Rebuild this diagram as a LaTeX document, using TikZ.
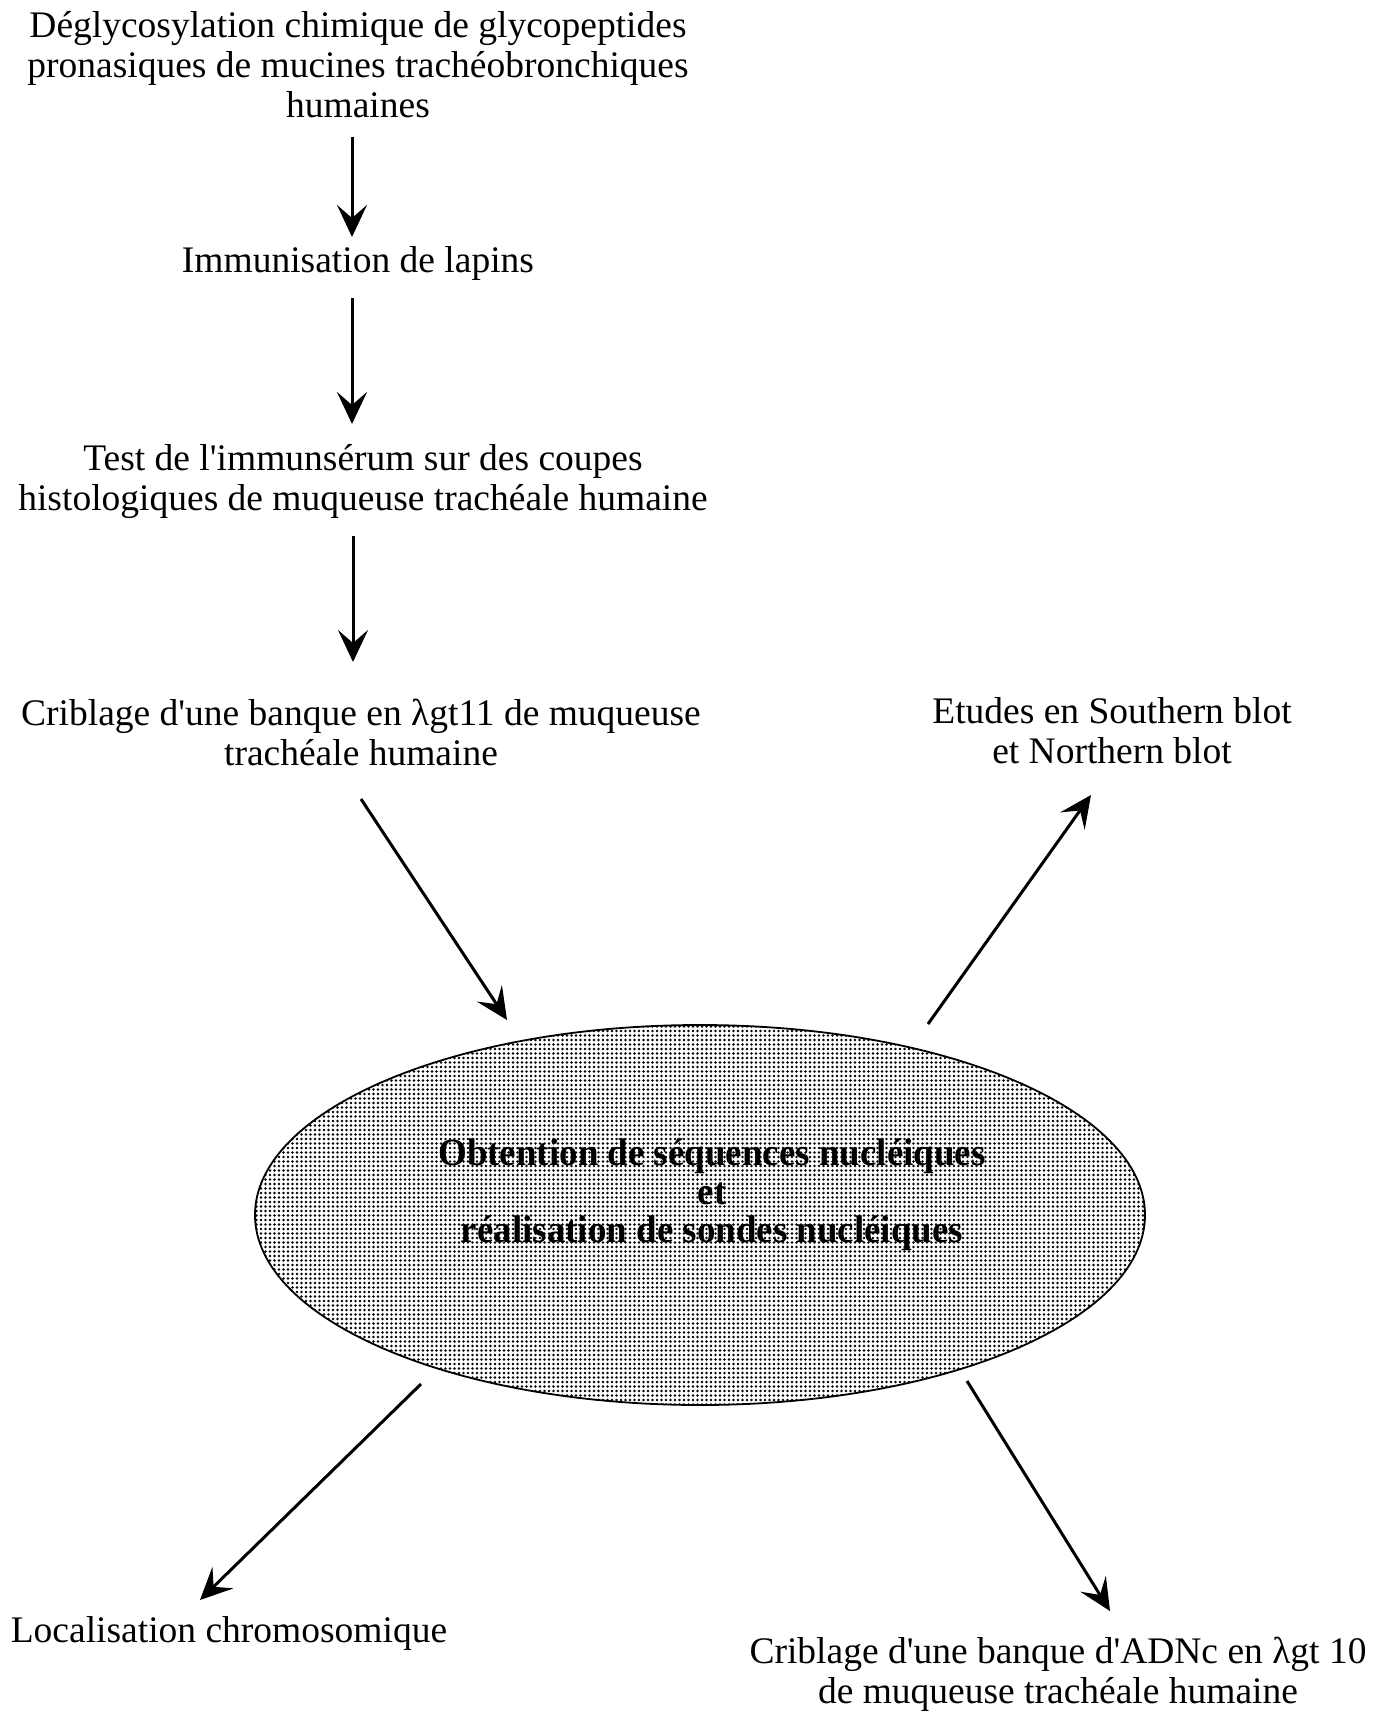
\documentclass[tikz,border=0pt]{standalone}
\usepackage{fontspec}
\setmainfont{Liberation Serif}
\newfontfamily\condbold[FakeStretch=0.96]{Liberation Serif}
\usetikzlibrary{arrows.meta,shapes.geometric,patterns.meta}
\begin{document}
\begin{tikzpicture}[x=1pt,y=-1pt,
  lbl/.style={font=\fontsize{37.5}{40}\selectfont, align=center, inner sep=0pt},
  arr/.style={line width=3pt, -{Stealth[length=32pt,width=30pt,inset=13pt]}}]
\useasboundingbox (0,0) rectangle (1385,1715);
\node[lbl] (t1) at (358,65) {Déglycosylation chimique de glycopeptides\\pronasiques de mucines trachéobronchiques\\humaines};
\node[lbl] (t2) at (358,263) {Immunisation de lapins};
\node[lbl] (t3) at (363,482) {Test de l\textquotesingle immunsérum sur des coupes\\histologiques de muqueuse trachéale humaine};
\node[lbl] (t4) at (361,732) {Criblage d\textquotesingle une banque en λgt11 de muqueuse\\trachéale humaine};
\node[lbl] (t5) at (1112,731) {Etudes en Southern blot\\et Northern blot};
\node[lbl] (t6) at (229,1633) {Localisation chromosomique};
\node[lbl] (t7) at (1058,1674) {Criblage d\textquotesingle une banque d\textquotesingle ADNc en λgt 10\\de muqueuse trachéale humaine};
\node[draw, line width=1.8pt, ellipse, minimum width=890pt, minimum height=380pt,
  pattern={Dots[distance=4.5pt,radius=1.4pt]}] (e) at (700,1215) {};
\node[font=\condbold\bfseries\fontsize{38.5}{38.5}\selectfont, align=center, inner sep=0pt] (et) at (712,1195)
  {Obtention de séquences nucléiques\\et\\réalisation de sondes nucléiques};
\coordinate (a1s) at (352,137); \coordinate (a1e) at (352,237);
\coordinate (a2s) at (352,298); \coordinate (a2e) at (352,424);
\coordinate (a3s) at (353,536); \coordinate (a3e) at (353,662);
\coordinate (a4s) at (361,799); \coordinate (a4e) at (507,1020);
\coordinate (a5s) at (928,1024); \coordinate (a5e) at (1091,795);
\coordinate (a6s) at (421,1384); \coordinate (a6e) at (200,1600);
\coordinate (a7s) at (967,1381); \coordinate (a7e) at (1110,1611);
\draw[arr] (a1s) -- (a1e);
\draw[arr] (a2s) -- (a2e);
\draw[arr] (a3s) -- (a3e);
\draw[arr] (a4s) -- (a4e);
\draw[arr] (a5s) -- (a5e);
\draw[arr] (a6s) -- (a6e);
\draw[arr] (a7s) -- (a7e);
\end{tikzpicture}
\end{document}
